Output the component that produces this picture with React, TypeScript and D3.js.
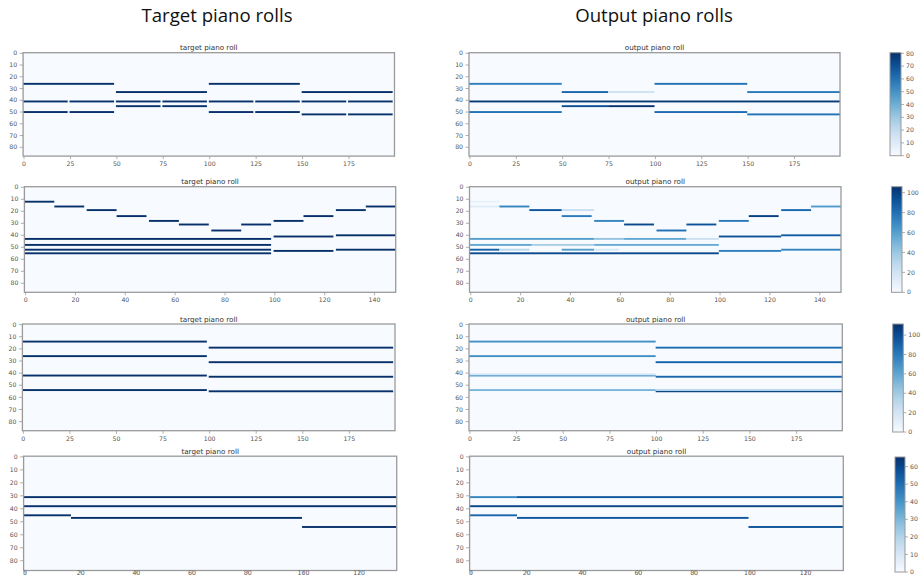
import React from "react";
import * as d3 from "d3";

// Notes: [pitch, start step, end step (exclusive)] for targets,
// [pitch, start, end, activation] for model outputs.
const target1: number[][] = [
  [26, 0, 49], [41, 0, 24], [41, 25, 49], [50, 0, 24], [50, 25, 49],
  [33, 50, 99], [41, 50, 74], [41, 75, 99], [45, 50, 74], [45, 75, 99],
  [26, 100, 149], [41, 100, 124], [41, 125, 149], [50, 100, 124], [50, 125, 149],
  [33, 150, 199], [41, 150, 174], [41, 175, 199], [52, 150, 174], [52, 175, 199],
];
const output1: number[][] = [
  [26, 0, 50, 56], [41, 0, 200, 78], [50, 0, 50, 60],
  [33, 50, 75, 64], [33, 75, 100, 16], [45, 50, 75, 72], [45, 75, 100, 80],
  [26, 100, 150, 60], [50, 100, 150, 62],
  [33, 150, 200, 58], [52, 150, 200, 60],
];

const target2: number[][] = [
  [12, 0, 12], [16, 12, 24], [19, 25, 37], [24, 37, 49], [28, 50, 62], [31, 62, 74],
  [36, 75, 87], [31, 87, 99], [28, 100, 112], [24, 112, 124], [19, 125, 137], [16, 137, 149],
  [43, 0, 99], [48, 0, 99], [52, 0, 99], [55, 0, 99],
  [41, 100, 124], [53, 100, 124], [40, 125, 149], [52, 125, 149],
];
const output2: number[][] = [
  [12, 0, 12, 8], [16, 0, 12, 14], [16, 12, 24, 72], [19, 24, 37, 92], [19, 37, 50, 24],
  [24, 37, 49, 76], [28, 50, 62, 72], [31, 62, 74, 96], [36, 75, 87, 80], [31, 87, 99, 92],
  [28, 100, 112, 76], [24, 112, 124, 100], [19, 125, 137, 84], [16, 137, 149, 62],
  [43, 0, 50, 60], [43, 50, 62, 42], [43, 62, 87, 56], [43, 87, 100, 22],
  [48, 0, 25, 56], [48, 25, 50, 36], [48, 50, 100, 54],
  [52, 0, 12, 86], [52, 12, 24, 30], [52, 37, 50, 60], [52, 50, 60, 16],
  [55, 0, 100, 96],
  [41, 100, 125, 92], [53, 100, 125, 74], [40, 125, 149, 88], [52, 125, 149, 72],
];

const target3: number[][] = [
  [14, 0, 99], [26, 0, 99], [42, 0, 99], [54, 0, 99],
  [19, 100, 199], [31, 100, 199], [43, 100, 199], [55, 100, 199],
];
const output3: number[][] = [
  [14, 0, 100, 70], [26, 0, 100, 70], [42, 0, 100, 66], [41, 0, 100, 18], [54, 0, 100, 52],
  [19, 100, 200, 86], [31, 100, 200, 90], [43, 100, 200, 88], [55, 100, 200, 104], [54, 100, 200, 34],
];

const target4: number[][] = [
  [31, 0, 134], [38, 0, 134], [45, 0, 17], [47, 17, 100], [54, 100, 134],
];
const output4: number[][] = [
  [31, 0, 17, 44], [31, 17, 134, 56], [38, 0, 134, 61], [45, 0, 17, 52],
  [47, 17, 100, 56], [54, 100, 134, 57],
];

// Steps per roll, colour-scale maxima and tick labels
const stepCounts = [200, 149, 200, 134];
const outputMax = [80.5, 106, 111.5, 65.5];
const xTicks = [
  [0, 25, 50, 75, 100, 125, 150, 175],
  [0, 20, 40, 60, 80, 100, 120, 140],
  [0, 25, 50, 75, 100, 125, 150, 175],
  [0, 20, 40, 60, 80, 100, 120],
];
const yTicks = [0, 10, 20, 30, 40, 50, 60, 70, 80];
const colorbarTicks = [
  [0, 10, 20, 30, 40, 50, 60, 70, 80],
  [0, 20, 40, 60, 80, 100],
  [0, 20, 40, 60, 80, 100],
  [0, 10, 20, 30, 40, 50, 60],
];
const targets = [target1, target2, target3, target4];
const outputs = [output1, output2, output3, output4];

const PITCHES = 88;
const TICK_FONT = "DejaVu Sans, sans-serif";
const SPINE = "#9a9a9a";
const TICK_TEXT = "#555";
const HEIGHT = 576;

// Row geometry
const rows = [
  { top: 52.7, bottom: 156.1, tL: 23.1, tR: 394.5, oL: 469, oR: 840, cbL: 890, cbR: 901, cbT: 52.7, cbB: 155.7 },
  { top: 186.7, bottom: 292.3, tL: 24.4, tR: 395.7, oL: 469.5, oR: 841, cbL: 891.5, cbR: 902, cbT: 186.7, cbB: 292.3 },
  { top: 324, bottom: 430.7, tL: 22.4, tR: 395, oL: 469, oR: 842.3, cbL: 892.7, cbR: 903.3, cbT: 324, cbB: 432 },
  { top: 456.2, bottom: 570.5, tL: 23.6, tR: 396.7, oL: 469.6, oR: 843.3, cbL: 895, cbR: 905, cbT: 457, cbB: 572 },
];

const blues = d3.interpolateBlues;

type PanelProps = {
  title: string;
  notes: number[][];
  steps: number;
  vmax: number;
  left: number;
  right: number;
  top: number;
  bottom: number;
  ticks: number[];
};

function Panel({ title, notes, steps, vmax, left, right, top, bottom, ticks }: PanelProps) {
  const x = d3.scaleLinear().domain([-0.5, steps - 0.5]).range([left, right]);
  const y = d3.scaleLinear().domain([-0.5, PITCHES - 0.5]).range([top, bottom]);
  const color = d3.scaleSequential(blues).domain([0, vmax]);
  const rowH = y(1) - y(0);
  const h = Math.max(rowH, 1.9);
  const labelY = Math.min(bottom + 10, HEIGHT - 1.5);
  return (
    <g>
      <text x={(left + right) / 2} y={top - 2.5} textAnchor="middle" fontFamily={TICK_FONT} fontSize={7.2} fill="#333">
        {title}
      </text>
      <rect x={left} y={top} width={right - left} height={bottom - top} fill={blues(0)} />
      {notes.map((n, i) => {
        const v = n.length > 3 ? n[3] : vmax;
        return (
          <rect
            key={i}
            x={x(n[1] - 0.5)}
            y={y(n[0]) - h / 2}
            width={x(n[2] - 0.5) - x(n[1] - 0.5)}
            height={h}
            fill={color(v)}
          />
        );
      })}
      <rect x={left} y={top} width={right - left} height={bottom - top} fill="none" stroke={SPINE} strokeWidth={1.3} />
      {yTicks.map((t) => (
        <g key={"y" + t}>
          <line x1={left - 3.5} x2={left} y1={y(t)} y2={y(t)} stroke={SPINE} strokeWidth={0.8} />
          <text x={left - 6} y={y(t)} dy="0.35em" textAnchor="end" fontFamily={TICK_FONT} fontSize={6.2} fill={TICK_TEXT}>
            {t}
          </text>
        </g>
      ))}
      {ticks.map((t) => (
        <g key={"x" + t}>
          <line x1={x(t)} x2={x(t)} y1={bottom} y2={bottom + 3} stroke={SPINE} strokeWidth={0.8} />
          <text x={x(t)} y={labelY} textAnchor="middle" fontFamily={TICK_FONT} fontSize={6.2} fill={TICK_TEXT}>
            {t}
          </text>
        </g>
      ))}
    </g>
  );
}

function Colorbar({ id, vmax, ticks, left, right, top, bottom }: { id: string; vmax: number; ticks: number[]; left: number; right: number; top: number; bottom: number }) {
  const y = d3.scaleLinear().domain([0, vmax]).range([bottom, top]);
  const stops = d3.range(0, 1.0001, 0.1);
  return (
    <g>
      <defs>
        <linearGradient id={id} x1="0" y1="1" x2="0" y2="0">
          {stops.map((s) => (
            <stop key={s} offset={s} stopColor={blues(s)} />
          ))}
        </linearGradient>
      </defs>
      <rect x={left} y={top} width={right - left} height={bottom - top} fill={`url(#${id})`} stroke={SPINE} strokeWidth={1} />
      {ticks.map((t) => (
        <g key={t}>
          <line x1={right} x2={right + 3} y1={y(t)} y2={y(t)} stroke={SPINE} strokeWidth={0.8} />
          <text x={right + 5} y={y(t)} dy="0.35em" fontFamily={TICK_FONT} fontSize={6.2} fill={TICK_TEXT}>
            {t}
          </text>
        </g>
      ))}
    </g>
  );
}

export default function App() {
  return (
    <svg width={922} height={HEIGHT} style={{ position: "absolute", left: 0, top: 0, background: "#fff" }}>
      <text x={217} y={21.5} textAnchor="middle" fontFamily="Open Sans, sans-serif" fontSize={18.6} fill="#111">
        Target piano rolls
      </text>
      <text x={654} y={21.5} textAnchor="middle" fontFamily="Open Sans, sans-serif" fontSize={18.6} fill="#111">
        Output piano rolls
      </text>
      {rows.map((r, i) => (
        <g key={i}>
          <Panel
            title="target piano roll"
            notes={targets[i]}
            steps={stepCounts[i]}
            vmax={1}
            left={r.tL}
            right={r.tR}
            top={r.top}
            bottom={r.bottom}
            ticks={xTicks[i]}
          />
          <Panel
            title="output piano roll"
            notes={outputs[i]}
            steps={stepCounts[i]}
            vmax={outputMax[i]}
            left={r.oL}
            right={r.oR}
            top={r.top}
            bottom={r.bottom}
            ticks={xTicks[i]}
          />
          <Colorbar
            id={"cb" + i}
            vmax={outputMax[i]}
            ticks={colorbarTicks[i]}
            left={r.cbL}
            right={r.cbR}
            top={r.cbT}
            bottom={r.cbB}
          />
        </g>
      ))}
    </svg>
  );
}
